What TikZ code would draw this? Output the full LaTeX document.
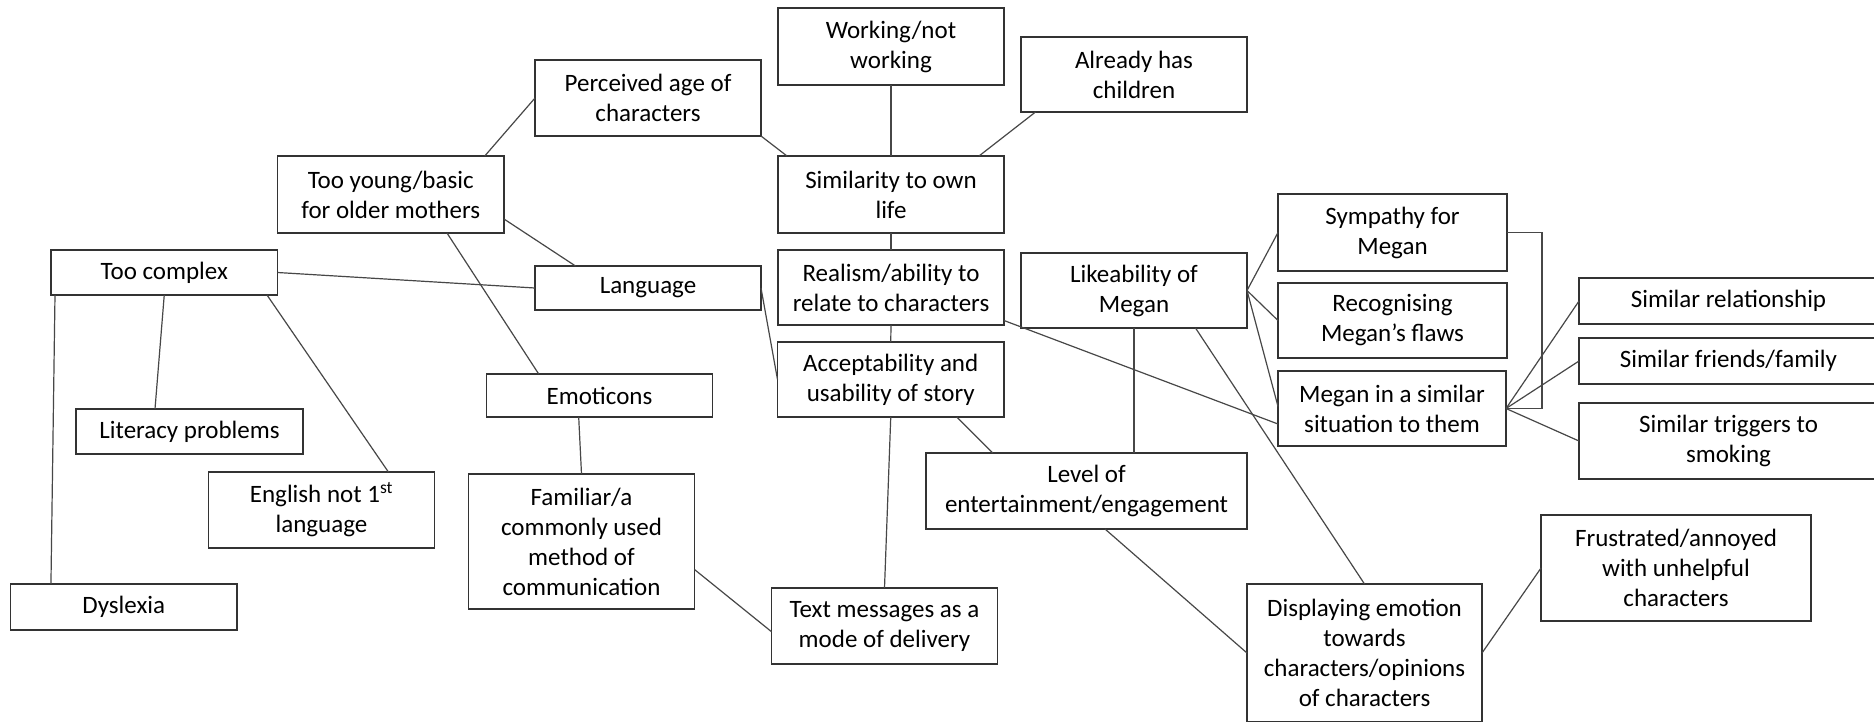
\documentclass[tikz,border=0pt]{standalone}
\usepackage{fontspec}
\setmainfont{Carlito}

% one unit = one pixel, y grows downwards
\tikzset{
  box/.style={draw=black!80, line width=1.6pt, fill=white, inner sep=0pt, outer sep=0pt,
              align=center, font=\fontsize{25}{30}\selectfont},
  link/.style={draw=black!72, line width=1.2pt},
}
% \bx{name}{left}{top}{right}{bottom}{text}
\newcommand\bx[6]{\node[box, minimum width={#4-#2}, minimum height={#5-#3}]
  (#1) at ({(#2+#4)/2},{(#3+#5)/2}) {#6};}

\begin{document}
\begin{tikzpicture}[x=1pt, y=-1pt]
\clip (0,0) rectangle (1874,721);
\fill[white] (0,0) rectangle (1874,721);

% ---- boxes ----
\bx{pa}{535}{60}{761}{136}{Perceived age of\\characters}
\bx{wk}{778}{8}{1004}{85}{Working/not\\working}
\bx{ah}{1021}{37}{1247}{112}{Already has\\children}
\bx{ty}{277.5}{156}{504}{233}{Too young/basic\\for older mothers}
\bx{sim}{778}{156}{1004}{233}{Similarity to own\\life}
\bx{tc}{51}{250}{277.5}{295}{Too complex}
\bx{lang}{535}{266}{761}{310}{Language}
\bx{re}{778}{250}{1004}{325}{Realism/ability to\\relate to characters}
\bx{lk}{1021}{253}{1247}{328}{Likeability of\\Megan}
\bx{sy}{1278}{194}{1507}{271}{Sympathy for\\Megan}
\bx{rec}{1278}{283}{1507}{358}{Recognising\\Megan’s flaws}
\bx{meg}{1278}{371}{1506}{446}{Megan in a similar\\situation to them}
\bx{sr}{1579}{278}{1878}{324}{Similar relationship}
\bx{sf}{1579}{338}{1878}{384}{Similar friends/family}
\bx{st}{1579}{403}{1878}{479}{Similar triggers to\\smoking}
\bx{acc}{777.5}{342}{1004}{417}{Acceptability and\\usability of story}
\bx{emo}{486.5}{374}{712.5}{417}{Emoticons}
\bx{lit}{76}{409}{303}{454}{Literacy problems}
\bx{eng}{208.5}{472}{434.5}{548}{English not 1\textsuperscript{st}\\language}
\bx{fam}{468.5}{474}{694.5}{609}{Familiar/a\\commonly used\\method of\\communication}
\bx{lvl}{926}{453}{1247}{529}{Level of\\entertainment/engagement}
\bx{txt}{771.5}{588}{997.5}{664}{Text messages as a\\mode of delivery}
\bx{dys}{10.5}{584}{237}{630}{Dyslexia}
\bx{fr}{1541}{515}{1811}{621}{Frustrated/annoyed\\with unhelpful\\characters}
\bx{dis}{1247}{584}{1482}{722}{Displaying emotion\\towards\\characters/opinions\\of characters}

% ---- connectors ----
\path[link] ([xshift=94pt]ty.north) -- (pa.west);
\path[link] ([yshift=-24.5pt]ty.east) -- ([xshift=-72.5pt]lang.north);
\path[link] (tc.east) -- (lang.west);
\path[link] ([xshift=56.25pt]ty.south) -- ([xshift=-60.8pt]emo.north);
\path[link] ([xshift=-109.25pt]tc.south) -- ([xshift=-72.8pt]dys.north);
\path[link] (tc.south) -- ([xshift=-34.5pt]lit.north);
\path[link] ([xshift=102.75pt]tc.south) -- ([xshift=66.9pt]eng.north);
\path[link] ([xshift=-20.8pt]emo.south) -- (fam.north);
\path[link] ([yshift=-28pt]fam.east) -- ([yshift=-5.7pt]txt.west);
\path[link] (pa.south east) -- ([xshift=-104pt]sim.north);
\path[link] (wk.south) -- (sim.north);
\path[link] ([xshift=-98.5pt]ah.south) -- ([xshift=88pt]sim.north);
\path[link] (sim.south) -- (re.north);
\path[link] (re.south) -- (acc.north);
\path[link] (lang.east) -- (acc.west);
\path[link] (acc.south) -- (txt.north);
\path[link] ([xshift=66pt]acc.south) -- ([xshift=-93.8pt]lvl.north);
\path[link] (lk.south) -- (lk.south |- lvl.north);
\path[link] ([xshift=61.5pt]lk.south) -- (dis.north);
\path[link] ([xshift=18.5pt]lvl.south) -- (dis.west);
\path[link] (dis.east) -- (fr.west);
\path[link] (lk.east) -- (sy.west);
\path[link] (lk.east) -- (rec.west);
\path[link] (lk.east) -- ([yshift=2pt]meg.west);
\path[link] ([yshift=-33pt]re.east) -- ([yshift=-15.5pt]meg.west);
\path[link] (sy.east) -- ++(35,0) |- (meg.east);
\path[link] (meg.east) -- (sr.west);
\path[link] (meg.east) -- (sf.west);
\path[link] (meg.east) -- (st.west);
\end{tikzpicture}
\end{document}
